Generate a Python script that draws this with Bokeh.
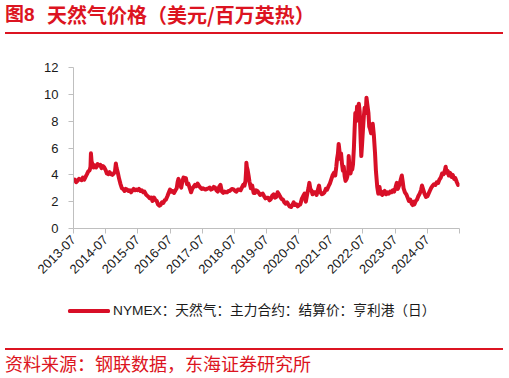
import math
import pandas as pd
from bokeh.plotting import figure
from bokeh.layouts import column
from bokeh.models import Range1d, FixedTicker, ColumnDataSource, Div
from bokeh.embed import file_html
from bokeh.resources import INLINE

# ---- data (NYMEX Henry Hub natural gas settlement, USD/MMBtu) ----
nymex_2013 = [("07-01", 3.55), ("07-15", 3.65), ("08-01", 3.45), ("08-15", 3.55), ("09-01", 3.70),
              ("09-15", 3.65), ("10-01", 3.60), ("10-15", 3.80), ("11-01", 3.65), ("11-15", 3.85),
              ("12-01", 4.05), ("12-15", 4.25)]
nymex_2014 = [("01-01", 4.35), ("01-10", 4.60), ("01-15", 5.60), ("01-22", 5.00), ("02-01", 4.80),
              ("02-15", 4.55), ("03-01", 4.70), ("03-15", 4.55), ("04-01", 4.80), ("04-15", 4.70),
              ("05-01", 4.75), ("05-15", 4.50), ("06-01", 4.65), ("06-15", 4.55), ("07-01", 4.35),
              ("07-15", 4.10), ("08-01", 4.05), ("08-15", 4.20), ("09-01", 4.05), ("09-15", 4.00),
              ("10-01", 4.10), ("10-15", 4.25), ("10-25", 4.85), ("11-01", 4.55), ("11-15", 4.20),
              ("12-01", 3.70), ("12-15", 3.35)]
nymex_2015 = [("01-01", 3.00), ("01-15", 2.95), ("02-01", 2.80), ("02-15", 2.95), ("03-01", 2.90),
              ("03-15", 2.80), ("04-01", 2.85), ("04-15", 2.70), ("05-01", 2.85), ("05-15", 2.95),
              ("06-01", 2.85), ("06-15", 2.90), ("07-01", 2.85), ("07-15", 2.95), ("08-01", 2.80),
              ("08-15", 2.85), ("09-01", 2.70), ("09-15", 2.75), ("10-01", 2.55), ("10-15", 2.45),
              ("11-01", 2.35), ("11-15", 2.25), ("12-01", 2.30), ("12-15", 2.05)]
nymex_2016 = [("01-01", 2.30), ("01-15", 2.15), ("02-01", 2.05), ("02-15", 1.80), ("03-01", 1.70),
              ("03-15", 1.75), ("04-01", 1.95), ("04-15", 1.90), ("05-01", 2.10), ("05-15", 2.15),
              ("06-01", 2.40), ("06-15", 2.65), ("07-01", 2.90), ("07-15", 2.75), ("08-01", 2.80),
              ("08-15", 2.65), ("09-01", 2.85), ("09-15", 3.00), ("09-25", 3.45), ("10-05", 3.70),
              ("10-20", 3.30), ("11-05", 3.05), ("11-20", 3.55), ("12-01", 3.80), ("12-15", 3.60),
              ("12-28", 3.75)]
nymex_2017 = [("01-10", 3.30), ("01-25", 3.35), ("02-10", 3.00), ("02-25", 2.70), ("03-10", 2.95),
              ("03-25", 3.10), ("04-10", 3.25), ("04-25", 3.15), ("05-10", 3.35), ("05-25", 3.20),
              ("06-10", 3.05), ("06-25", 2.95), ("07-10", 3.00), ("07-25", 2.95), ("08-10", 2.90),
              ("08-25", 2.95), ("09-10", 3.00), ("09-25", 3.05), ("10-10", 2.90), ("10-25", 2.95),
              ("11-10", 3.10), ("11-25", 3.05), ("12-10", 2.85), ("12-25", 2.75)]
nymex_2018 = [("01-10", 3.10), ("01-25", 3.25), ("02-10", 2.75), ("02-25", 2.65), ("03-10", 2.75),
              ("03-25", 2.70), ("04-10", 2.70), ("04-25", 2.80), ("05-10", 2.80), ("05-25", 2.90),
              ("06-10", 2.95), ("06-25", 2.90), ("07-10", 2.80), ("07-25", 2.75), ("08-10", 2.90),
              ("08-25", 2.90), ("09-10", 2.85), ("09-25", 3.05), ("10-10", 3.25), ("10-25", 3.20),
              ("11-05", 3.55), ("11-12", 4.30), ("11-15", 4.90), ("11-20", 4.60), ("11-28", 4.40),
              ("12-10", 3.95), ("12-20", 3.50)]
nymex_2019 = [("01-05", 3.00), ("01-20", 3.20), ("02-05", 2.65), ("02-20", 2.65), ("03-05", 2.85),
              ("03-20", 2.80), ("04-05", 2.65), ("04-20", 2.50), ("05-05", 2.55), ("05-20", 2.60),
              ("06-05", 2.40), ("06-20", 2.25), ("07-05", 2.30), ("07-20", 2.30), ("08-05", 2.10),
              ("08-20", 2.20), ("09-05", 2.45), ("09-20", 2.55), ("10-05", 2.30), ("10-20", 2.35),
              ("11-05", 2.70), ("11-20", 2.55), ("12-05", 2.35), ("12-20", 2.20)]
nymex_2020 = [("01-05", 2.15), ("01-20", 1.95), ("02-05", 1.85), ("02-20", 1.95), ("03-05", 1.80),
              ("03-20", 1.65), ("04-05", 1.60), ("04-20", 1.75), ("05-05", 1.95), ("05-20", 1.75),
              ("06-05", 1.80), ("06-20", 1.65), ("07-05", 1.75), ("07-20", 1.80), ("08-05", 2.20),
              ("08-20", 2.40), ("09-05", 2.60), ("09-20", 2.00), ("10-05", 2.55), ("10-20", 3.00),
              ("10-30", 3.40), ("11-10", 2.95), ("11-25", 2.80), ("12-05", 2.55), ("12-20", 2.70)]
nymex_2021 = [("01-05", 2.70), ("01-20", 2.50), ("02-05", 2.90), ("02-17", 3.20), ("03-01", 2.75),
              ("03-20", 2.55), ("04-05", 2.60), ("04-20", 2.70), ("05-05", 2.95), ("05-20", 2.90),
              ("06-05", 3.15), ("06-20", 3.35), ("07-05", 3.65), ("07-20", 3.95), ("08-05", 4.15),
              ("08-20", 3.95), ("09-01", 4.60), ("09-10", 5.20), ("09-20", 5.60), ("09-28", 6.30),
              ("10-05", 5.90), ("10-15", 5.20), ("10-25", 5.60), ("11-05", 4.80), ("11-15", 4.30),
              ("11-25", 4.60), ("12-05", 3.90), ("12-15", 3.55), ("12-28", 3.70)]
nymex_2022 = [("01-05", 3.90), ("01-15", 4.30), ("01-20", 5.40), ("01-28", 4.60), ("02-10", 4.10),
              ("02-20", 4.50), ("03-01", 4.40), ("03-10", 4.80), ("03-20", 6.00), ("03-28", 7.40),
              ("04-05", 8.60), ("04-15", 8.00), ("04-25", 9.10), ("05-05", 8.50), ("05-15", 9.30),
              ("05-25", 8.70), ("06-05", 6.50), ("06-12", 5.40), ("06-20", 6.20), ("07-01", 7.40),
              ("07-10", 8.30), ("07-20", 9.00), ("08-01", 8.60), ("08-10", 9.75), ("08-20", 9.20),
              ("09-01", 8.60), ("09-10", 7.60), ("09-20", 7.40), ("10-01", 7.10), ("10-10", 7.30),
              ("10-20", 7.80), ("11-01", 7.00), ("11-15", 5.60), ("11-25", 4.30), ("12-10", 3.10),
              ("12-22", 2.60)]
nymex_2023 = [("01-05", 3.10), ("01-15", 2.60), ("01-25", 2.75), ("02-05", 2.50), ("02-20", 2.65),
              ("03-05", 2.80), ("03-20", 2.55), ("04-05", 2.70), ("04-20", 2.60), ("05-05", 2.75),
              ("05-20", 2.70), ("06-05", 2.85), ("06-20", 2.75), ("07-05", 3.05), ("07-20", 3.40),
              ("08-01", 2.95), ("08-15", 3.20), ("09-01", 3.60), ("09-15", 3.95), ("09-25", 3.50),
              ("10-05", 3.00), ("10-20", 2.70), ("11-05", 2.55), ("11-20", 2.30), ("12-05", 2.05),
              ("12-20", 2.15)]
nymex_2024 = [("01-05", 1.85), ("01-15", 1.75), ("01-25", 2.00), ("02-05", 1.80), ("02-20", 2.05),
              ("03-05", 2.15), ("03-20", 2.40), ("04-05", 2.60), ("04-20", 2.85), ("05-01", 3.20),
              ("05-15", 2.90), ("06-01", 2.55), ("06-15", 2.35), ("07-01", 2.40), ("07-15", 2.60),
              ("08-01", 2.85), ("08-15", 3.05), ("09-01", 3.20), ("09-15", 3.30), ("10-01", 3.25),
              ("10-15", 3.45), ("11-01", 3.40), ("11-15", 3.65), ("12-01", 3.80), ("12-15", 4.10)]
nymex_2025 = [("01-01", 4.05), ("01-15", 4.30), ("01-25", 4.60), ("02-05", 4.15), ("02-15", 4.30),
              ("03-01", 3.95), ("03-15", 4.15), ("04-01", 3.85), ("04-15", 4.00), ("05-01", 3.70),
              ("05-15", 3.75), ("06-01", 3.45), ("06-15", 3.25), ("06-28", 3.40)]

tick_dates = ["2013-07-01", "2014-07-01", "2015-07-01", "2016-07-01", "2017-07-01", "2018-07-01",
              "2019-07-01", "2020-07-01", "2021-07-01", "2022-07-01", "2023-07-01", "2024-07-01",
              "2025-07-01"]
tick_labels = ["2013-07", "2014-07", "2015-07", "2016-07", "2017-07", "2018-07",
               "2019-07", "2020-07", "2021-07", "2022-07", "2023-07", "2024-07", ""]
y_ticks = [0, 2, 4, 6, 8, 10, 12]

title_prefix = "图8"
title_text = "天然气价格（美元/百万英热）"
series_name = "NYMEX：天然气：主力合约：结算价：亨利港（日）"
source_text = "资料来源：钢联数据，东海证券研究所"

RED = "#DC1421"
LINE_RED = "#D80F27"
AXIS_GREY = "#BFBFBF"
FONT_CSS = "'Liberation Sans','Noto Sans CJK SC',sans-serif"
CJK_CSS = "'Noto Sans CJK SC',sans-serif"

# ---- build series ----
years = [(2013, nymex_2013), (2014, nymex_2014), (2015, nymex_2015), (2016, nymex_2016),
         (2017, nymex_2017), (2018, nymex_2018), (2019, nymex_2019), (2020, nymex_2020),
         (2021, nymex_2021), (2022, nymex_2022), (2023, nymex_2023), (2024, nymex_2024),
         (2025, nymex_2025)]
xs, ys = [], []
for yr, rows in years:
    for md, v in rows:
        xs.append(pd.Timestamp(f"{yr}-{md}"))
        ys.append(v)
src = ColumnDataSource(dict(x=xs, y=ys))


def ms(d):
    return float(pd.Timestamp(d).value // 10**6)


tick_ms = [ms(d) for d in tick_dates]

W = 509
TOP_H, MAIN_H, BOT_H = 40, 250, 88

# ---- top: title (HTML) ----
top_html = (
    f'<div style="position:relative;width:{W}px;height:{TOP_H}px;">'
    f'<span style="position:absolute;left:5px;top:3px;white-space:nowrap;font:bold 19px/24px {FONT_CSS};'
    f'color:{RED};">{title_prefix}</span>'
    f'<span style="position:absolute;left:47px;top:3px;white-space:nowrap;font:bold 20px/24px {CJK_CSS};'
    f'color:{RED};">{title_text}</span>'
    f'<div style="position:absolute;left:5px;top:31.5px;width:498px;height:2px;background:{RED};"></div>'
    '</div>'
)
top = Div(text=top_html, width=W, height=TOP_H, margin=0)

# ---- main chart ----
p = figure(width=W, height=MAIN_H, x_axis_type="datetime", output_backend="svg",
           toolbar_location=None,
           x_range=Range1d(tick_ms[0], tick_ms[-1]), y_range=Range1d(0, 12),
           min_border_left=73, min_border_right=50, min_border_top=27, min_border_bottom=62)
p.outline_line_color = None
p.grid.visible = False
p.background_fill_color = "white"
p.border_fill_color = "white"

r = p.line("x", "y", source=src, line_color=LINE_RED, line_width=4, line_join="round")

p.xaxis.ticker = FixedTicker(ticks=tick_ms)
p.xaxis.major_label_overrides = {t: lab for t, lab in zip(tick_ms, tick_labels)}
p.xaxis.major_label_orientation = math.pi / 4
p.yaxis.ticker = FixedTicker(ticks=y_ticks)

for ax in (p.xaxis[0], p.yaxis[0]):
    ax.axis_line_color = AXIS_GREY
    ax.axis_line_width = 1
    ax.major_tick_line_color = AXIS_GREY
    ax.major_tick_in = 0
    ax.major_tick_out = 5
    ax.minor_tick_line_color = None
    ax.major_label_text_font = "Liberation Sans"
    ax.major_label_text_font_size = "13px"
    ax.major_label_text_color = "#1a1a1a"
p.yaxis.major_label_standoff = 10
p.xaxis.major_label_standoff = 4

# ---- bottom: legend + source (HTML) ----
bot_html = (
    f'<div style="position:relative;width:{W}px;height:{BOT_H}px;">'
    f'<div style="position:absolute;left:68px;top:19.25px;width:42px;height:3.5px;'
    f'background:{LINE_RED};border-radius:1.5px;"></div>'
    f'<span style="position:absolute;left:113px;top:13px;white-space:nowrap;'
    f'font:13.7px/16px {FONT_CSS};color:#1a1a1a;">{series_name}</span>'
    f'<div style="position:absolute;left:5px;top:58.3px;width:498px;height:2px;background:{RED};"></div>'
    f'<span style="position:absolute;left:5px;top:63px;white-space:nowrap;'
    f'font:18px/21px {CJK_CSS};color:{RED};">{source_text}</span>'
    '</div>'
)
bot = Div(text=bot_html, width=W, height=BOT_H, margin=0)

layout = column(top, p, bot, spacing=0)
open("out.html", "w").write(file_html(layout, INLINE))
